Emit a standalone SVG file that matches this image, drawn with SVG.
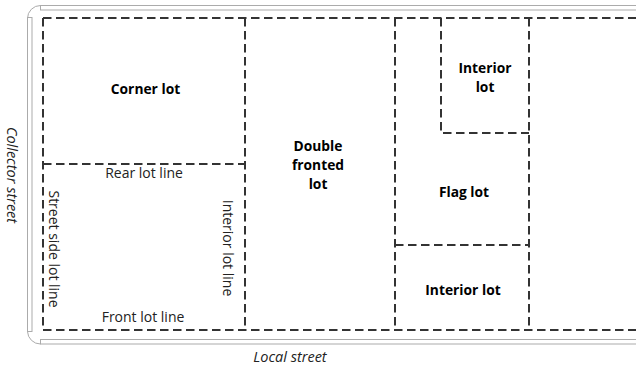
<svg xmlns="http://www.w3.org/2000/svg" width="636" height="368" viewBox="0 0 636 368">
<style>
.st{fill:none;stroke:#ababab;stroke-width:1}
.lot{fill:none;stroke:#333;stroke-width:2;stroke-dasharray:8.5 4.5}
.lbl{font-family:"Open Sans","Noto Sans",sans-serif;font-size:13.8px;font-weight:bold;fill:#000;text-anchor:middle}
.ln{font-family:"Open Sans","Noto Sans",sans-serif;font-size:14px;fill:#222;text-anchor:middle}
.str{font-family:"Open Sans","Noto Sans",sans-serif;font-size:14.5px;font-style:italic;fill:#222;text-anchor:middle}
</style>
<rect width="636" height="368" fill="#fff"/>
<g id="streets">
<rect class="st" x="40.5" y="5.5" width="600" height="4.5"/>
<rect class="st" x="27.5" y="17.5" width="4.5" height="314"/>
<rect class="st" x="40.5" y="339.5" width="600" height="4.5"/>
<path class="st" d="M27.5,18.5 A13,13 0 0 1 40.5,5.5"/>
<path class="st" d="M27.5,331.5 A13,13 0 0 0 40.5,344"/>
</g>
<g id="connectors">
<path class="lot" d="M43,18 H636"/>
<path class="lot" d="M43,330 H636"/>
<path class="lot" d="M43,18 V330"/>
<path class="lot" d="M245,18 V330"/>
<path class="lot" d="M395,18 V330"/>
<path class="lot" d="M529,18 V330"/>
<path class="lot" d="M43,164 H245"/>
<path class="lot" d="M395,245 H529"/>
<path class="lot" d="M441,18 V133 H529"/>
</g>
<g id="corner-lot"><text class="lbl" x="145.5" y="94">Corner lot</text></g>
<g id="double-fronted-lot"><text class="lbl" x="318" y="151">Double</text><text class="lbl" x="318" y="170">fronted</text><text class="lbl" x="318" y="189">lot</text></g>
<g id="interior-lot-top"><text class="lbl" x="485" y="73">Interior</text><text class="lbl" x="485" y="92">lot</text></g>
<g id="flag-lot"><text class="lbl" x="464" y="196.5">Flag lot</text></g>
<g id="interior-lot-bottom"><text class="lbl" x="463" y="295">Interior lot</text></g>
<g id="line-labels">
<text class="ln" x="144" y="178">Rear lot line</text>
<text class="ln" x="143" y="322">Front lot line</text>
<text class="ln" transform="translate(54.5,249) rotate(90)" dominant-baseline="central">Street side lot line</text>
<text class="ln" transform="translate(228,248) rotate(90)" dominant-baseline="central">Interior lot line</text>
</g>
<g id="street-labels">
<text class="str" transform="translate(12.5,175) rotate(90)" dominant-baseline="central">Collector street</text>
<text class="str" x="290" y="362">Local street</text>
</g>
</svg>
